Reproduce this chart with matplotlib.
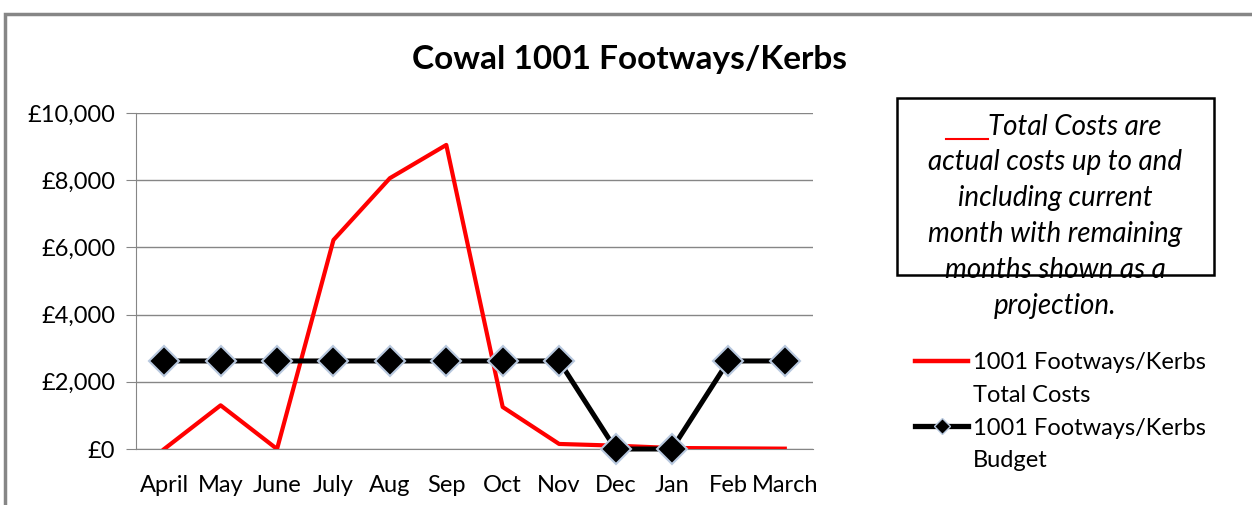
import matplotlib
matplotlib.use("Agg")
import matplotlib.pyplot as plt
from matplotlib.patches import Rectangle
from matplotlib.lines import Line2D
from matplotlib.ticker import FuncFormatter, MultipleLocator

months = ["April", "May", "June", "July", "Aug", "Sep", "Oct", "Nov", "Dec", "Jan", "Feb", "March"]
total_costs = [0, 1300, 0, 6220, 8060, 9050, 1250, 150, 100, 30, 20, 10]
budget = [2620, 2620, 2620, 2620, 2620, 2620, 2620, 2620, 0, 0, 2620, 2620]

plt.rcParams['font.family'] = ['Lato', 'DejaVu Sans']

W, H = 1252, 505
fig = plt.figure(figsize=(W / 100, H / 100), dpi=100)

# outer chart border
fig.patches.append(Rectangle((5 / W, -0.1), 1.2, (H - 14) / H + 0.1, transform=fig.transFigure,
                             fill=False, edgecolor="#868686", linewidth=2.5))

ax = fig.add_axes([136 / W, 1 - 449 / H, (813 - 136) / W, (449 - 113) / H])
x = list(range(len(months)))
red_line, = ax.plot(x, total_costs, color="#ff0000", linewidth=3, zorder=3)
black_line, = ax.plot(x, budget, color="black", linewidth=3.6, marker="D", markersize=15.5,
                      markerfacecolor="black", markeredgecolor="#b8c8de", markeredgewidth=1.5,
                      zorder=4, clip_on=False)

ax.set_xlim(-0.5, 11.5)
ax.set_ylim(0, 10000)
ax.yaxis.set_major_locator(MultipleLocator(2000))
ax.yaxis.set_major_formatter(FuncFormatter(lambda v, p: "£{:,.0f}".format(v)))
ax.set_xticks(x)
ax.set_xticklabels(months)
ax.grid(axis="y", color="#868686", linewidth=1)
ax.set_axisbelow(True)
for s in ["top", "right"]:
    ax.spines[s].set_visible(False)
for s in ["left", "bottom"]:
    ax.spines[s].set_color("#868686")
ax.tick_params(axis="y", length=7, color="#868686", labelsize=17, pad=8)
ax.tick_params(axis="x", length=0, labelsize=17, pad=19)

fig.text(630 / W, 1 - 60 / H, "Cowal 1001 Footways/Kerbs", ha="center", va="center",
         fontsize=24, fontweight="bold")

# annotation box
fig.patches.append(Rectangle((897 / W, 1 - 275 / H), (1214 - 897) / W, (275 - 98) / H,
                             transform=fig.transFigure, fill=False, edgecolor="black", linewidth=1.8))
fig.text(988 / W, 1 - 127 / H, "Total Costs are", ha="left", va="center", fontsize=20, style="italic")
fig.lines.append(Line2D([946 / W, 988 / W], [1 - 139 / H, 1 - 139 / H], transform=fig.transFigure,
                        color="red", linewidth=1.5))
lines = ["actual costs up to and", "including current",
         "month with remaining", "months shown as a", "projection."]
ys = [162, 198, 234, 270, 306]
for t, yy in zip(lines, ys):
    fig.text(1055 / W, 1 - yy / H, t, ha="center", va="center", fontsize=20, style="italic")

blank = Line2D([], [], color="none")
red_h = Line2D([], [], color="#ff0000", linewidth=3.2)
black_h = Line2D([], [], color="black", linewidth=3.8, marker="D", markersize=8,
                 markerfacecolor="black", markeredgecolor="#b8c8de", markeredgewidth=1)
fig.legend([red_h, blank, black_h, blank],
           ["1001 Footways/Kerbs", "Total Costs", "1001 Footways/Kerbs", "Budget"],
           loc="upper left", bbox_to_anchor=(915 / W, 1 - 352 / H), frameon=False,
           fontsize=17, handlelength=2.25, handletextpad=0.22, labelspacing=0.5,
           borderaxespad=0, borderpad=0)

fig.savefig("out.png", dpi=100)
